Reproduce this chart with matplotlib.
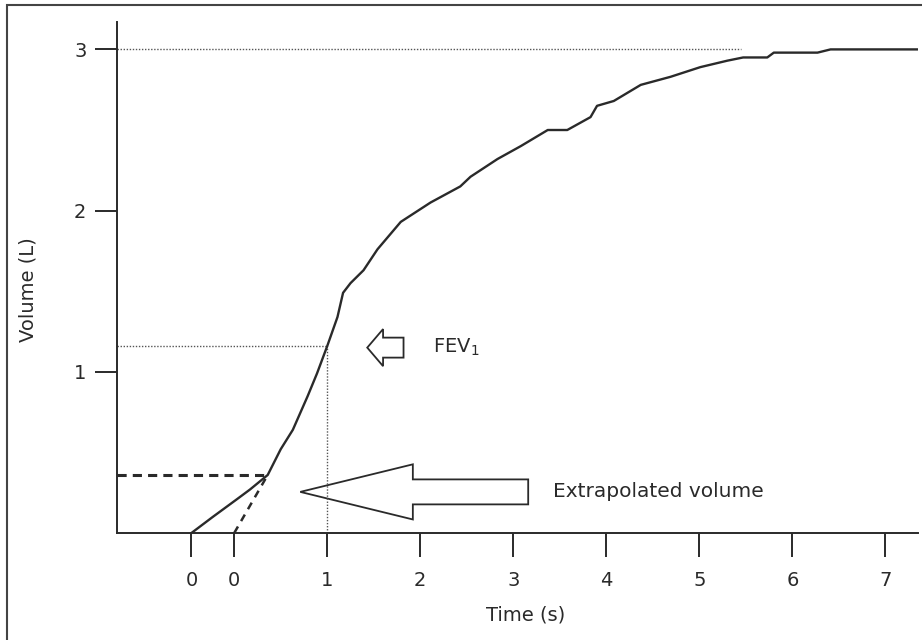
import matplotlib
matplotlib.use("Agg")
import numpy as np
from matplotlib import pyplot as plt
from matplotlib.patches import FancyArrow, Rectangle

plt.rcParams['font.family'] = ['DejaVu Sans']

# spirogram: time (s), volume (L)
time_s = [-0.46, -0.23, 0.03, 0.17, 0.36, 0.50, 0.63, 0.79, 0.89, 1.00,
          1.11, 1.17, 1.25, 1.39, 1.54, 1.79, 2.11, 2.43, 2.54, 2.83,
          3.08, 3.37, 3.58, 3.83, 3.90, 4.08, 4.37, 4.69, 5.01, 5.30,
          5.47, 5.73, 5.80, 6.27, 6.41, 7.34]
volume_l = [0.00, 0.10, 0.21, 0.27, 0.36, 0.52, 0.64, 0.85, 0.99, 1.16,
            1.34, 1.49, 1.55, 1.63, 1.76, 1.93, 2.05, 2.15, 2.21, 2.32,
            2.40, 2.50, 2.50, 2.58, 2.65, 2.68, 2.78, 2.83, 2.89, 2.93,
            2.95, 2.95, 2.98, 2.98, 3.00, 3.00]

# back-extrapolation of the steepest part
extrap_t = [0.0, 0.36]
extrap_v = [0.0, 0.36]

fev1_t = 1.0
fev1_v = 1.16
fvc = 3.0
fvc_dot_end = 5.45

xticks = [-0.46, 0, 1, 2, 3, 4, 5, 6, 7]
xtick_labels = ['0', '0', '1', '2', '3', '4', '5', '6', '7']
yticks = [1, 2, 3]
ytick_labels = ['1', '2', '3']

ink = '#2a2a2a'

fig = plt.figure(figsize=(9.22, 6.40), dpi=100)
ax = fig.add_axes([117/922, 107/640, 801/922, 511/640])

ax.plot(time_s, volume_l, color=ink, lw=1.7, zorder=3)
ax.plot(extrap_t, extrap_v, color=ink, lw=1.8, ls=(0, (3, 2.5)))
ax.plot([-1.26, extrap_t[1]], [extrap_v[1], extrap_v[1]], color=ink, lw=2.2, ls=(0, (3, 2)))

# dotted guides
ax.plot([-1.26, fev1_t], [fev1_v, fev1_v], color='#555555', lw=1, ls=(0, (1, 1.2)))
ax.plot([fev1_t, fev1_t], [0, fev1_v], color='#555555', lw=1, ls=(0, (1, 1.2)))
ax.plot([-1.26, fvc_dot_end], [fvc, fvc], color='#555555', lw=1, ls=(0, (1, 1.2)))

# hollow arrows
ax.add_patch(FancyArrow(1.82, 1.15, 1.43 - 1.82, 0, width=0.124, head_width=0.23,
                        head_length=0.17, length_includes_head=True,
                        fill=False, ec=ink, lw=1.3))
ax.add_patch(FancyArrow(3.16, 0.255, 0.71 - 3.16, 0, width=0.155, head_width=0.342,
                        head_length=1.21, length_includes_head=True,
                        fill=False, ec=ink, lw=1.3))
ax.text(2.14, 1.15, r'FEV$_\mathregular{1}$', fontsize=14, color=ink, va='center', ha='left')
ax.text(3.43, 0.255, 'Extrapolated volume', fontsize=14.5, color=ink, va='center', ha='left')

ax.set_xlim(-1.26, 7.35)
ax.set_ylim(0, 3.17)
for s in ['top', 'right']:
    ax.spines[s].set_visible(False)
for s in ['left', 'bottom']:
    ax.spines[s].set_color(ink)
    ax.spines[s].set_linewidth(1.4)

ax.set_xticks(xticks)
ax.set_xticklabels(xtick_labels)
ax.set_yticks(yticks)
ax.set_yticklabels(ytick_labels)
ax.tick_params(axis='x', direction='out', length=17, width=1.4, pad=10,
               labelsize=14, colors=ink)
ax.tick_params(axis='y', direction='out', length=16, width=1.4, pad=6,
               labelsize=14, colors=ink)

ax.set_xlabel('Time (s)', fontsize=14, color=ink)
ax.set_ylabel('Volume (L)', fontsize=14, color=ink)
ax.xaxis.set_label_coords(0.51, -0.141)
ax.yaxis.set_label_coords(-0.099, 0.476)

# outer frame of the figure (only left and top edges show in the scan)
fig.patches.append(Rectangle((7/922, -0.01), 1.02, 635/640 + 0.01, transform=fig.transFigure,
                             fill=False, ec='#444444', lw=1.5))

fig.savefig('out.png', dpi=100)
